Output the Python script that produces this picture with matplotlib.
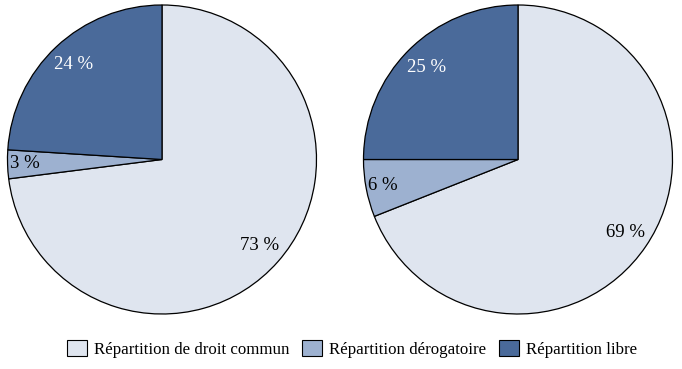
import matplotlib
matplotlib.use('Agg')
import matplotlib.pyplot as plt
from matplotlib.patches import Patch

categories = ['Répartition de droit commun', 'Répartition dérogatoire', 'Répartition libre']
left_values = [73, 3, 24]
right_values = [69, 6, 25]
colors = ['#DFE5EF', '#9DB1D0', '#4A6A9A']
text_colors = ['black', 'black', 'white']

plt.rcParams['font.family'] = ['Liberation Serif', 'DejaVu Serif']

fig = plt.figure(figsize=(6.82, 3.69), dpi=100)
W, H = 682, 369


def draw_pie(cx, cy, r, values):
    ax = fig.add_axes([(cx - r) / W, (H - cy - r) / H, 2 * r / W, 2 * r / H])
    wedges, texts, autotexts = ax.pie(
        values, colors=colors, startangle=90, counterclock=False,
        autopct=lambda p: f'{p:.0f} %', pctdistance=0.84,
        wedgeprops=dict(edgecolor='black', linewidth=0.9),
        textprops=dict(fontsize=13.5))
    for v, t, c in zip(values, autotexts, text_colors):
        t.set_color(c)
        if v < 10:
            x, y = t.get_position()
            t.set_position((x * 0.89 / 0.84, y * 0.89 / 0.84))
    ax.set_xlim(-1, 1)
    ax.set_ylim(-1, 1)
    ax.set_aspect('equal')
    ax.axis('off')


draw_pie(162, 159.5, 154.5, left_values)
draw_pie(518, 159.5, 154.5, right_values)

handles = [Patch(facecolor=c, edgecolor='black', linewidth=0.8) for c in colors]
fig.legend(handles, categories, loc='center', bbox_to_anchor=(352 / W, 1 - 349 / H),
           ncol=3, frameon=False, fontsize=12.2, handlelength=1.2, handleheight=1.1,
           handletextpad=0.4, columnspacing=0.75)

fig.savefig('out.png', dpi=100)
